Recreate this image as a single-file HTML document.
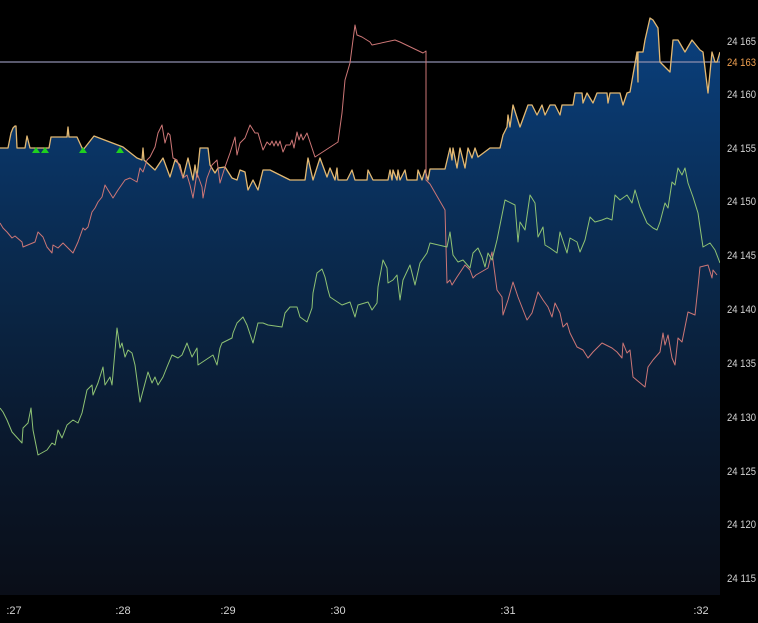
<!DOCTYPE html>
<html><head><meta charset="utf-8"><style>
html,body{margin:0;padding:0;background:#000;width:758px;height:623px;overflow:hidden}
svg{display:block}
text{font-family:"Liberation Sans",sans-serif;font-size:11px;fill:#d2d2d2}
</style></head><body>
<svg width="758" height="623" viewBox="0 0 758 623" xmlns="http://www.w3.org/2000/svg">
<defs>
<linearGradient id="g" x1="0" y1="0" x2="0" y2="595" gradientUnits="userSpaceOnUse">
<stop offset="0" stop-color="#0b4282"/>
<stop offset="0.25" stop-color="#0a3464"/>
<stop offset="0.5" stop-color="#0a2646"/>
<stop offset="0.75" stop-color="#0a182c"/>
<stop offset="1" stop-color="#0a0e18"/>
</linearGradient>
</defs>
<rect width="758" height="623" fill="#000"/>
<polygon fill="url(#g)" points="0,595 0,148 8,148 11,133 13,128 15,126 16,126 17,148 25,148 27,136 30,148 49,148 51,137 67,137 68,127 69,137 77,137 83,150 94,136 123,147 137,158 142,160 143,148 144,160 155,170 163,158 170,177 175,160 180,165 183,178 188,158 193,180 195,165 197,177 200,148 208,148 210,165 215,173 218,168 225,167 232,178 237,180 240,170 245,172 248,190 253,180 258,190 263,170 270,170 290,180 305,180 308,158 313,180 320,158 327,177 330,168 335,180 337,168 338,180 347,180 352,170 355,180 367,180 368,170 373,180 388,180 390,170 392,180 393,170 397,180 398,170 400,180 405,170 407,180 417,180 418,170 422,180 425,170 428,180 430,169 445,169 450,148 452,160 453,148 457,168 460,148 465,168 468,148 472,158 475,148 478,157 490,148 500,148 503,135 507,127 508,115 510,127 513,105 520,127 528,105 532,105 537,115 542,105 545,115 550,105 555,105 560,115 562,105 573,105 575,93 582,93 583,103 587,93 593,103 597,93 607,93 608,103 610,93 620,93 623,105 627,93 630,92 637,52 638,82 638,52 643,52 645,40 650,18 653,20 658,28 660,62 670,72 673,40 678,40 685,52 692,40 700,50 703,52 708,93 712,52 715,62 717,62 720,52 720,595"/>
<line x1="0" y1="62" x2="720" y2="62" stroke="#8e8eae" stroke-width="1.3"/>
<polyline fill="none" stroke="#e2b872" stroke-width="1.3" stroke-linejoin="round" points="0,148 8,148 11,133 13,128 15,126 16,126 17,148 25,148 27,136 30,148 49,148 51,137 67,137 68,127 69,137 77,137 83,150 94,136 123,147 137,158 142,160 143,148 144,160 155,170 163,158 170,177 175,160 180,165 183,178 188,158 193,180 195,165 197,177 200,148 208,148 210,165 215,173 218,168 225,167 232,178 237,180 240,170 245,172 248,190 253,180 258,190 263,170 270,170 290,180 305,180 308,158 313,180 320,158 327,177 330,168 335,180 337,168 338,180 347,180 352,170 355,180 367,180 368,170 373,180 388,180 390,170 392,180 393,170 397,180 398,170 400,180 405,170 407,180 417,180 418,170 422,180 425,170 428,180 430,169 445,169 450,148 452,160 453,148 457,168 460,148 465,168 468,148 472,158 475,148 478,157 490,148 500,148 503,135 507,127 508,115 510,127 513,105 520,127 528,105 532,105 537,115 542,105 545,115 550,105 555,105 560,115 562,105 573,105 575,93 582,93 583,103 587,93 593,103 597,93 607,93 608,103 610,93 620,93 623,105 627,93 630,92 637,52 638,82 638,52 643,52 645,40 650,18 653,20 658,28 660,62 670,72 673,40 678,40 685,52 692,40 700,50 703,52 708,93 712,52 715,62 717,62 720,52"/>
<polyline fill="none" stroke="#cc7676" stroke-width="1" stroke-linejoin="round" points="0,223 3,228 7,232 12,238 15,236 22,242 23,247 35,242 38,232 43,237 47,247 52,253 53,245 58,248 63,243 67,247 73,253 78,242 83,228 85,230 88,227 92,212 95,208 98,202 102,197 105,185 108,190 113,198 118,190 125,180 130,178 137,182 140,168 143,172 147,160 150,157 155,147 158,133 162,125 165,143 168,133 170,135 173,158 177,160 183,178 187,175 190,185 193,198 197,173 202,187 203,198 207,178 212,165 217,160 220,183 225,167 230,153 235,137 237,155 240,143 245,138 250,125 255,133 258,133 263,150 267,142 270,145 272,141 274,146 276,141 278,146 280,141 283,152 286,145 290,145 292,140 294,148 297,132 299,140 301,134 303,140 307,133 315,157 338,142 342,113 345,80 350,63 353,40 355,25 357,35 362,37 370,42 372,45 395,40 400,42 423,53 426,51 426,180 430,184 445,210 447,283 450,280 452,285 457,277 465,265 470,270 473,278 476,275 488,268 492,252 493,260 497,290 502,297 503,315 508,300 513,282 518,297 527,320 532,313 538,292 543,300 548,307 552,317 555,303 560,313 563,327 567,323 570,333 577,347 583,350 588,358 593,352 602,343 612,348 617,352 622,358 623,343 627,353 630,350 633,377 645,387 648,367 653,360 660,352 663,333 665,345 668,335 672,358 675,365 678,338 682,342 688,312 695,315 698,287 700,267 708,265 712,278 713,270 717,275"/>
<polyline fill="none" stroke="#8ec274" stroke-width="1" stroke-linejoin="round" points="0,408 3,412 7,420 12,432 22,443 23,428 28,423 31,408 33,430 38,455 47,450 52,443 55,445 58,430 62,438 67,425 73,420 78,423 82,413 87,390 92,385 93,395 98,383 103,367 105,385 110,377 112,385 117,328 120,348 122,343 125,357 128,350 132,353 135,365 140,402 148,372 152,383 155,377 158,385 163,377 167,367 172,355 178,358 182,355 187,343 192,357 197,348 198,365 213,355 217,365 220,348 222,343 232,338 233,333 237,323 243,317 247,325 253,343 258,323 263,323 268,325 282,327 285,313 290,307 297,307 300,317 307,322 312,308 313,293 317,273 322,269 325,277 328,290 330,297 342,305 350,302 355,317 358,305 368,302 372,310 377,303 378,287 383,260 387,268 388,283 393,280 397,275 400,300 403,280 410,265 415,285 420,263 427,253 430,243 447,247 450,232 453,255 458,262 463,260 470,268 473,253 478,248 482,257 485,267 488,253 492,260 497,240 505,200 515,205 518,242 520,222 525,230 530,195 535,203 538,237 543,227 545,245 550,248 557,253 560,232 567,253 570,238 577,242 580,252 585,240 590,217 595,222 602,220 607,218 612,220 615,195 620,200 627,195 632,203 635,190 640,207 647,223 653,228 657,230 660,222 665,203 668,208 672,182 675,185 678,168 682,175 685,168 688,183 693,197 698,213 700,227 703,247 710,243 715,250 720,263"/>
<g fill="#1fd01f">
<polygon points="32,153 36,147 40,153"/>
<polygon points="41,153 45,147 49,153"/>
<polygon points="79,153 83,147 87,153"/>
<polygon points="116,153 120,147 124,153"/>
</g>
<rect x="720" y="0" width="38" height="623" fill="#000"/>
<g>
<text x="727" y="45" textLength="29" lengthAdjust="spacingAndGlyphs">24 165</text>
<text x="727" y="66" textLength="29" lengthAdjust="spacingAndGlyphs" style="fill:#f0a050">24 163</text>
<text x="727" y="98" textLength="29" lengthAdjust="spacingAndGlyphs">24 160</text>
<text x="727" y="152" textLength="29" lengthAdjust="spacingAndGlyphs">24 155</text>
<text x="727" y="205" textLength="29" lengthAdjust="spacingAndGlyphs">24 150</text>
<text x="727" y="259" textLength="29" lengthAdjust="spacingAndGlyphs">24 145</text>
<text x="727" y="313" textLength="29" lengthAdjust="spacingAndGlyphs">24 140</text>
<text x="727" y="367" textLength="29" lengthAdjust="spacingAndGlyphs">24 135</text>
<text x="727" y="421" textLength="29" lengthAdjust="spacingAndGlyphs">24 130</text>
<text x="727" y="475" textLength="29" lengthAdjust="spacingAndGlyphs">24 125</text>
<text x="727" y="528" textLength="29" lengthAdjust="spacingAndGlyphs">24 120</text>
<text x="727" y="582" textLength="29" lengthAdjust="spacingAndGlyphs">24 115</text>
</g>
<text x="14" y="614" text-anchor="middle">:27</text>
<text x="123" y="614" text-anchor="middle">:28</text>
<text x="228" y="614" text-anchor="middle">:29</text>
<text x="338" y="614" text-anchor="middle">:30</text>
<text x="508" y="614" text-anchor="middle">:31</text>
<text x="701" y="614" text-anchor="middle">:32</text>
</svg>
</body></html>
